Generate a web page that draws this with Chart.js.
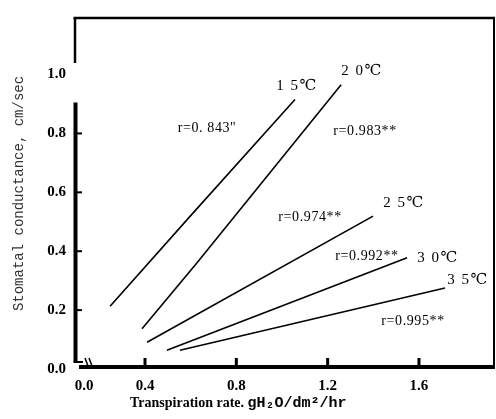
<!DOCTYPE html>
<html>
<head>
<meta charset="utf-8">
<script src="https://cdn.jsdelivr.net/npm/chart.js@4/dist/chart.umd.min.js"></script>
<style>
html,body{margin:0;padding:0;background:#fff;}
#wrap{width:496px;height:419px;position:relative;}
</style>
</head>
<body>
<div id="wrap"><canvas id="c"></canvas></div>
<script>
// ---- data ----
const seriesNames = ['15℃', '20℃', '25℃', '30℃', '35℃'];
const t15x = [0.247, 0.606, 1.057];
const t15y = [0.213, 0.526, 0.915];
const t20x = [0.387, 0.628, 1.259];
const t20y = [0.137, 0.361, 0.965];
const t25x = [0.409, 1.399];
const t25y = [0.091, 0.519];
const t30x = [0.496, 1.548];
const t30y = [0.064, 0.378];
const t35x = [0.553, 1.714];
const t35y = [0.064, 0.275];

const xTickValues = [0.4, 0.8, 1.2, 1.6];
const xTickLabels = ['0.0', '0.4', '0.8', '1.2', '1.6'];
const yTickValues = [0, 0.2, 0.4, 0.6, 0.8, 1.0];
const yTickLabels = ['0.0', '0.2', '0.4', '0.6', '0.8', '1.0'];

const tempLabels = ['1 5℃', '2 0℃', '2 5℃', '3 0℃', '3 5℃'];
const rLabels = ['r=0. 843"', 'r=0.983**', 'r=0.974**', 'r=0.992**', 'r=0.995**'];

const xTitle1 = 'Transpiration rate. ';
const xTitle2 = 'gH₂O/dm²/hr';
const yTitle = 'Stomatal conductance, cm/sec';

// ---- layout (not data) ----
const X_MIN = 0.0934, X_MAX = 1.933, Y_MIN = 0, Y_MAX = 1.192;
const X_BREAK_LABEL_AT = 0.133; // where the broken axis shows "0.0"
const tempLabelPos = [[1.066, 0.962], [1.35, 1.011], [1.534, 0.565], [1.683, 0.377], [1.815, 0.302]];
const rLabelPos = [[0.672, 0.816], [1.364, 0.806], [1.123, 0.516], [1.372, 0.384], [1.574, 0.163]];

const SERIF = '"Liberation Serif", "DejaVu Serif", "Noto Sans CJK SC", serif';
const MONO = '"Liberation Mono", "DejaVu Sans Mono", monospace';

function pts(xs, ys) { return xs.map((v, i) => ({x: v, y: ys[i]})); }
const allX = [t15x, t20x, t25x, t30x, t35x];
const allY = [t15y, t20y, t25y, t30y, t35y];

const datasets = seriesNames.map((n, i) => ({
  label: n,
  data: pts(allX[i], allY[i]),
  showLine: true,
  borderColor: '#000',
  borderWidth: 1.6,
  pointRadius: 0,
  fill: false,
  tension: 0
}));

const framePlugin = {
  id: 'frame',
  afterDraw(chart) {
    const {ctx, chartArea: {left, right, top, bottom}, scales: {x, y}} = chart;
    const line = (x1, y1, x2, y2, w) => {
      ctx.beginPath(); ctx.lineWidth = w; ctx.moveTo(x1, y1); ctx.lineTo(x2, y2); ctx.stroke();
    };
    ctx.save();
    ctx.strokeStyle = '#000';
    ctx.lineCap = 'butt';
    // frame top/right
    line(left - 1.5, top, right, top, 2.5);
    line(right - 1, top, right - 1, bottom, 2);
    // upper stub of left side
    line(left, top, left, top + 45, 2.5);
    // thick y axis
    line(left + 0.5, y.getPixelForValue(0.905), left + 0.5, bottom - 7, 4);
    line(left - 1.5, bottom - 7, left + 8, bottom - 7, 2);
    // thick x axis
    line(left + 4, bottom - 2, right, bottom - 2, 4);
    // axis break marks
    line(left + 10, bottom - 11, left + 13, bottom - 3, 1.5);
    line(left + 14, bottom - 11, left + 17, bottom - 3, 1.5);
    // y ticks (inward)
    yTickValues.slice(1, 5).forEach(v => {
      const py = y.getPixelForValue(v);
      line(left, py, left + 7, py, 2);
    });
    // x ticks (inward)
    xTickValues.forEach(v => {
      const px = x.getPixelForValue(v);
      line(px, bottom - 2, px, bottom - 11, 3);
    });

    // text annotations
    ctx.fillStyle = '#000';
    ctx.textAlign = 'center';
    ctx.textBaseline = 'middle';
    ctx.font = '15px ' + SERIF;
    ctx.letterSpacing = '1.5px';
    tempLabels.forEach((t, i) => {
      ctx.fillText(t, x.getPixelForValue(tempLabelPos[i][0]), y.getPixelForValue(tempLabelPos[i][1]));
    });
    ctx.font = '14px ' + SERIF;
    ctx.letterSpacing = '0.6px';
    rLabels.forEach((t, i) => {
      ctx.fillText(t, x.getPixelForValue(rLabelPos[i][0]), y.getPixelForValue(rLabelPos[i][1]));
    });

    // x axis title
    ctx.letterSpacing = '0px';
    ctx.textAlign = 'left';
    ctx.font = 'bold 14px ' + SERIF;
    const tx = left + 55, ty = 403;
    ctx.fillText(xTitle1, tx, ty);
    const w1 = ctx.measureText(xTitle1).width;
    ctx.font = 'bold 15px ' + MONO;
    ctx.fillText(xTitle2, tx + w1, ty);
    ctx.restore();
  }
};

new Chart(document.getElementById('c'), {
  type: 'scatter',
  data: {datasets},
  options: {
    responsive: true,
    maintainAspectRatio: false,
    animation: false,
    layout: {padding: {top: 8, right: 1, left: 0, bottom: 0}},
    plugins: {legend: {display: false}, tooltip: {enabled: false}},
    scales: {
      x: {
        type: 'linear',
        min: X_MIN, max: X_MAX,
        grid: {display: false, drawTicks: false},
        border: {display: false},
        afterBuildTicks: s => {
          s.ticks = [X_BREAK_LABEL_AT, ...xTickValues].map(v => ({value: v}));
        },
        afterFit: s => { s.height = 50; },
        ticks: {
          autoSkip: false, maxRotation: 0, padding: 8,
          color: '#000',
          font: {family: SERIF, size: 15, weight: 'bold'},
          callback: (v, i) => xTickLabels[i]
        }
      },
      y: {
        type: 'linear',
        min: Y_MIN, max: Y_MAX,
        grid: {display: false, drawTicks: false},
        border: {display: false},
        afterBuildTicks: s => { s.ticks = yTickValues.map(v => ({value: v})); },
        afterFit: s => { s.width = 75; },
        ticks: {
          autoSkip: false, padding: 9,
          color: '#000',
          font: {family: SERIF, size: 15, weight: 'bold'},
          callback: (v, i) => yTickLabels[i]
        },
        title: {
          display: true,
          text: yTitle,
          color: '#333',
          font: {family: MONO, size: 14},
          padding: {top: 10.5, bottom: 0}
        }
      }
    }
  },
  plugins: [framePlugin]
});
</script>
</body>
</html>
